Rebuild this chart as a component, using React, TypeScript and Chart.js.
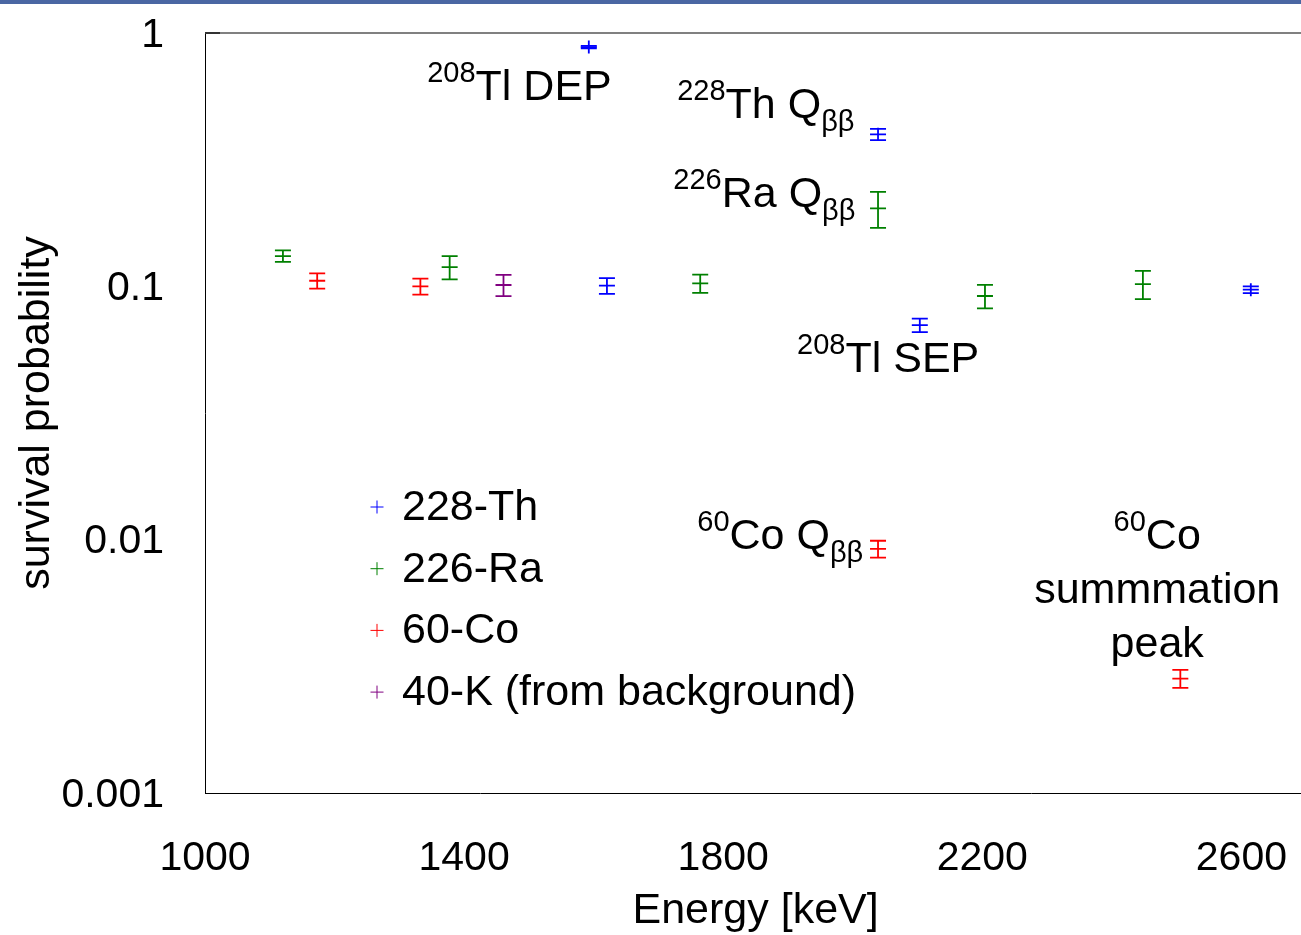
import React, { useEffect, useRef } from "react";
import { Chart, registerables } from "chart.js";

Chart.register(...registerables);

// ---- data: survival probability per gamma line ----
const thEnergy = [1592.5, 1620.5, 2039, 2103.5, 2614.5];
const thSurvival = [0.88, 0.1006, 0.398, 0.0703, 0.097];
const thError = [0.01, 0.0072, 0.02, 0.0043, 0.003];

const raEnergy = [1120.3, 1377.7, 1764.5, 2039, 2204.1, 2447.9];
const raSurvival = [0.1317, 0.119, 0.1028, 0.203, 0.0916, 0.102];
const raError = [0.0069, 0.0125, 0.0085, 0.033, 0.0097, 0.013];

const coEnergy = [1173.2, 1332.5, 2039, 2505.7];
const coSurvival = [0.1052, 0.1, 0.0092, 0.00283];
const coError = [0.0072, 0.0072, 0.0007, 0.00023];

const kEnergy = [1460.8];
const kSurvival = [0.1012];
const kError = [0.0097];

const seriesLabels = ["228-Th", "226-Ra", "60-Co", "40-K (from background)"];
const seriesColors = ["#0000ff", "#008000", "#ff0000", "#800080"];

const xTicks = [1000, 1400, 1800, 2200, 2600];
const yTicks = [0.001, 0.01, 0.1, 1];
const yTickLabels = ["0.001", "0.01", "0.1", "1"];

// ---- text labels placed in data coordinates (energy, probability) ----
type Part = [kind: "sup" | "main" | "sub", text: string];
type Note = { e: number; p: number; align: "left" | "center"; lines: Part[][] };

const notes: Note[] = [
  { e: 1343, p: 0.544, align: "left", lines: [[["sup", "208"], ["main", "Tl DEP"]]] },
  { e: 1729, p: 0.462, align: "left", lines: [[["sup", "228"], ["main", "Th Q"], ["sub", "ββ"]]] },
  { e: 1723, p: 0.2056, align: "left", lines: [[["sup", "226"], ["main", "Ra Q"], ["sub", "ββ"]]] },
  { e: 1914, p: 0.0459, align: "left", lines: [[["sup", "208"], ["main", "Tl SEP"]]] },
  { e: 1760, p: 0.00919, align: "left", lines: [[["sup", "60"], ["main", "Co Q"], ["sub", "ββ"]]] },
  {
    e: 2470,
    p: 0.00919,
    align: "center",
    lines: [[["sup", "60"], ["main", "Co"]], [["main", "summmation"]], [["main", "peak"]]],
  },
];

const FONT = "'Liberation Sans', Arial, Helvetica, sans-serif";
const MAIN_PX = 43;
const SMALL_PX = 29;
const LINE_GAP = 54;

function fontFor(kind: string) {
  return `${kind === "main" ? MAIN_PX : SMALL_PX}px ${FONT}`;
}
function shiftFor(kind: string) {
  return kind === "sup" ? -18 : kind === "sub" ? 13 : 0;
}

const errorBarPlugin = {
  id: "errorBars",
  afterDatasetsDraw(chart: any) {
    const { ctx } = chart;
    const yScale = chart.scales.y;
    const cap = 8;
    const arm = 6.5;
    chart.data.datasets.forEach((ds: any, di: number) => {
      const meta = chart.getDatasetMeta(di);
      ctx.save();
      ctx.strokeStyle = ds.borderColor;
      ctx.lineWidth = 1.8;
      meta.data.forEach((el: any, i: number) => {
        const d = ds.data[i];
        const x = el.x;
        const yc = el.y;
        const yTop = yScale.getPixelForValue(d.y + d.err);
        const yBot = yScale.getPixelForValue(d.y - d.err);
        ctx.beginPath();
        ctx.moveTo(x, Math.min(yTop, yc - arm));
        ctx.lineTo(x, Math.max(yBot, yc + arm));
        ctx.moveTo(x - cap, yTop);
        ctx.lineTo(x + cap, yTop);
        ctx.moveTo(x - cap, yBot);
        ctx.lineTo(x + cap, yBot);
        ctx.stroke();
      });
      ctx.restore();
    });
  },
};

const framePlugin = {
  id: "frameTop",
  afterDraw(chart: any) {
    const { ctx, chartArea, width } = chart;
    ctx.save();
    ctx.lineWidth = 2;
    ctx.strokeStyle = "#808080";
    ctx.beginPath();
    ctx.moveTo(chartArea.left, chartArea.top);
    ctx.lineTo(width, chartArea.top);
    ctx.stroke();
    ctx.strokeStyle = "#333333";
    ctx.beginPath();
    ctx.moveTo(chartArea.left, chartArea.top);
    ctx.lineTo(chartArea.left + 15, chartArea.top);
    ctx.stroke();
    ctx.restore();
  },
};

const legendPlugin = {
  id: "insideLegend",
  afterDraw(chart: any) {
    const { ctx, chartArea } = chart;
    const mx = chartArea.left + 172;
    const tx = chartArea.left + 197;
    const y0 = chartArea.top + 474;
    const step = 61.7;
    ctx.save();
    ctx.textAlign = "left";
    ctx.textBaseline = "middle";
    ctx.font = `${MAIN_PX}px ${FONT}`;
    chart.data.datasets.forEach((ds: any, i: number) => {
      const y = y0 + i * step;
      ctx.strokeStyle = ds.borderColor;
      ctx.lineWidth = 1;
      ctx.beginPath();
      ctx.moveTo(mx - 6.5, y);
      ctx.lineTo(mx + 6.5, y);
      ctx.moveTo(mx, y - 6.5);
      ctx.lineTo(mx, y + 6.5);
      ctx.stroke();
      ctx.fillStyle = "#000";
      ctx.fillText(ds.label, tx, y + 1);
    });
    ctx.restore();
  },
};

const notesPlugin = {
  id: "notes",
  afterDraw(chart: any) {
    const { ctx } = chart;
    const xs = chart.scales.x;
    const ys = chart.scales.y;
    ctx.save();
    ctx.fillStyle = "#000";
    ctx.textAlign = "left";
    ctx.textBaseline = "alphabetic";
    notes.forEach((n) => {
      const ax = xs.getPixelForValue(n.e);
      const ay = ys.getPixelForValue(n.p);
      n.lines.forEach((line, li) => {
        const widths = line.map(([k, t]) => {
          ctx.font = fontFor(k);
          return ctx.measureText(t).width;
        });
        const total = widths.reduce((a, b) => a + b, 0);
        let x = n.align === "center" ? ax - total / 2 : ax;
        const base = ay + li * LINE_GAP;
        line.forEach(([k, t], pi) => {
          ctx.font = fontFor(k);
          ctx.fillText(t, x, base + shiftFor(k));
          x += widths[pi];
        });
      });
    });
    ctx.restore();
  },
};

function series(label: string, color: string, e: number[], p: number[], err: number[]) {
  return {
    label,
    data: e.map((x, i) => ({ x, y: p[i], err: err[i] })),
    borderColor: color,
    backgroundColor: color,
    pointStyle: "line",
    pointRadius: 8,
    pointHoverRadius: 8,
    pointBorderWidth: 1.8,
    showLine: false,
  };
}

export default function App() {
  const canvasRef = useRef<HTMLCanvasElement | null>(null);

  useEffect(() => {
    const canvas = canvasRef.current;
    if (!canvas) return;
    const chart = new Chart(canvas, {
      type: "scatter",
      data: {
        datasets: [
          series(seriesLabels[0], seriesColors[0], thEnergy, thSurvival, thError),
          series(seriesLabels[1], seriesColors[1], raEnergy, raSurvival, raError),
          series(seriesLabels[2], seriesColors[2], coEnergy, coSurvival, coError),
          series(seriesLabels[3], seriesColors[3], kEnergy, kSurvival, kError),
        ] as any,
      },
      options: {
        responsive: false,
        animation: false,
        devicePixelRatio: 1,
        layout: { padding: { left: 0, top: 33, right: 4, bottom: 0 } },
        plugins: {
          legend: { display: false },
          title: { display: false },
          tooltip: { enabled: false },
        },
        events: [],
        scales: {
          x: {
            type: "linear",
            min: 1000,
            max: 2700,
            grid: { display: false, drawTicks: false },
            border: { display: true, color: "#000", width: 1 },
            ticks: {
              color: "#000",
              font: { family: FONT, size: 41, lineHeight: 1 },
              padding: 45.5,
              maxRotation: 0,
              autoSkip: false,
              callback: (v: any) => String(v),
            },
            afterBuildTicks: (s: any) => {
              s.ticks = xTicks.map((v) => ({ value: v }));
            },
            afterFit: (s: any) => {
              s.height = 142;
              s.paddingLeft = 0;
              s.paddingRight = 0;
            },
            title: {
              display: true,
              text: "Energy [keV]",
              color: "#000",
              font: { family: FONT, size: 43, lineHeight: 1 },
              padding: { top: 0, bottom: 2.5 },
            },
          },
          y: {
            type: "logarithmic",
            min: 0.001,
            max: 1,
            grid: { display: false, drawTicks: false },
            border: { display: true, color: "#000", width: 1 },
            ticks: {
              color: "#000",
              font: { family: FONT, size: 41, lineHeight: 1 },
              padding: 41,
              labelOffset: 2.5,
              autoSkip: false,
              callback: (_v: any, i: number) => yTickLabels[i],
            },
            afterBuildTicks: (s: any) => {
              s.ticks = yTicks.map((v) => ({ value: v }));
            },
            afterFit: (s: any) => {
              s.width = 205;
              s.paddingTop = 0;
              s.paddingBottom = 0;
            },
            title: {
              display: true,
              text: "survival probability",
              color: "#000",
              font: { family: FONT, size: 43, lineHeight: 1 },
              padding: { top: 16, bottom: 0 },
            },
          },
        },
      } as any,
      plugins: [errorBarPlugin, notesPlugin, legendPlugin, framePlugin],
    });
    return () => chart.destroy();
  }, []);

  return (
    <div
      style={{
        position: "fixed",
        left: 0,
        top: 0,
        width: 1301,
        height: 935,
        overflow: "hidden",
        background: "#fff",
      }}
    >
      <canvas
        ref={canvasRef}
        width={1316}
        height={935}
        style={{ position: "absolute", left: 0, top: 0, width: 1316, height: 935 }}
      />
      <div
        style={{
          position: "absolute",
          left: 0,
          top: 0,
          width: "100%",
          height: 4,
          background: "#4a67a3",
        }}
      />
    </div>
  );
}
